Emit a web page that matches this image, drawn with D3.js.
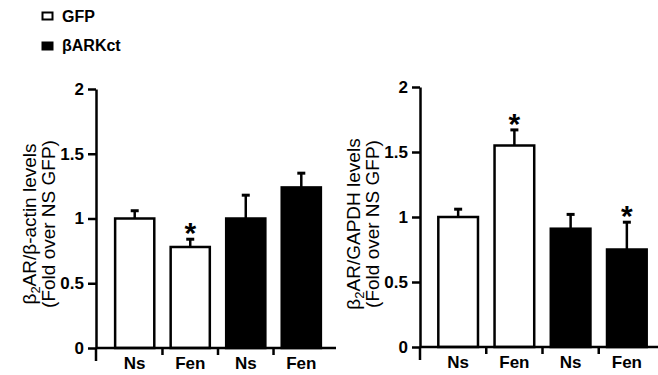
<!DOCTYPE html>
<html>
<head>
<meta charset="utf-8">
<script src="https://cdn.jsdelivr.net/npm/d3@7"></script>
<style>
body { margin: 0; background: #fff; }
svg { display: block; font-family: "Liberation Sans", Arial, sans-serif; }
</style>
</head>
<body>
<script>
// Daten
var categories = ["Ns", "Fen", "Ns", "Fen"];
var groups = ["GFP", "GFP", "βARKct", "βARKct"];
var actinValues = [1.0, 0.78, 1.0, 1.24];
var actinErrors = [0.06, 0.06, 0.18, 0.11];
var actinStars = [false, true, false, false];
var gapdhValues = [1.0, 1.55, 0.91, 0.75];
var gapdhErrors = [0.06, 0.12, 0.11, 0.21];
var gapdhStars = [false, true, false, true];
var yTicks = [0, 0.5, 1, 1.5, 2];
var legendItems = ["GFP", "βARKct"];

var width = 658, height = 375;
var font = "Liberation Sans, Arial, sans-serif";

var svg = d3.select("body").append("svg")
  .attr("width", width)
  .attr("height", height);

// Legende
legendItems.forEach(function (name, i) {
  var g = svg.append("g").attr("transform", "translate(0," + (i * 29) + ")");
  g.append("rect")
    .attr("x", 42.5).attr("y", 12.5 + (i ? 1 : 0))
    .attr("width", 10).attr("height", 7)
    .attr("fill", i ? "#000" : "#fff")
    .attr("stroke", "#000").attr("stroke-width", 2);
  g.append("text")
    .attr("x", 62).attr("y", 22)
    .attr("font-size", 16).attr("font-weight", "bold")
    .text(name);
});

function drawChart(opt) {
  var y = d3.scaleLinear().domain([0, 2]).range([opt.y0, opt.y2]);
  var x = d3.scaleBand().domain(d3.range(4)).range([opt.xStart, opt.xEnd]).padding(0.25);

  var g = svg.append("g");

  // Balken
  g.selectAll(".bar")
    .data(opt.values)
    .enter().append("rect")
    .attr("x", function (d, i) { return x(i) + 1.25; })
    .attr("y", function (d) { return y(d); })
    .attr("width", x.bandwidth() - 2.5)
    .attr("height", function (d) { return y(0) - y(d); })
    .attr("fill", function (d, i) { return groups[i] === "GFP" ? "#fff" : "#000"; })
    .attr("stroke", "#000").attr("stroke-width", 2.5);

  // Fehlerbalken + Sterne
  opt.values.forEach(function (v, i) {
    var cx = x(i) + x.bandwidth() / 2;
    var top = y(v + opt.errors[i]);
    g.append("line")
      .attr("x1", cx).attr("x2", cx)
      .attr("y1", y(v)).attr("y2", top)
      .attr("stroke", "#000").attr("stroke-width", 2.5);
    g.append("line")
      .attr("x1", cx - 4).attr("x2", cx + 4)
      .attr("y1", top).attr("y2", top)
      .attr("stroke", "#000").attr("stroke-width", 3);
    if (opt.stars[i]) {
      g.append("text")
        .attr("x", cx).attr("y", top + 4)
        .attr("text-anchor", "middle")
        .attr("font-size", 30).attr("font-weight", "bold")
        .text("*");
    }
  });

  // Y Achse
  var yAxis = g.append("g")
    .attr("transform", "translate(" + opt.axisX + ",0)")
    .call(d3.axisLeft(y).tickValues(yTicks).tickFormat(d3.format("")).tickSize(8).tickPadding(4).tickSizeOuter(0));
  yAxis.selectAll("text").attr("font-size", 17).attr("font-weight", "bold")
    .attr("font-family", font).attr("fill", "#000");
  yAxis.selectAll("line,path").attr("stroke", "#000").attr("stroke-width", 2.5);
  g.append("line")
    .attr("x1", opt.axisX).attr("x2", opt.axisX)
    .attr("y1", y(0)).attr("y2", y(0) + 13)
    .attr("stroke", "#000").attr("stroke-width", 2.5);

  // X Achse
  var xAxis = g.append("g")
    .attr("transform", "translate(0," + y(0) + ")")
    .call(d3.axisBottom(x).tickFormat(function (d) { return categories[d]; }).tickSize(0).tickPadding(9));
  xAxis.select(".domain").remove();
  xAxis.selectAll("text").attr("font-size", 17).attr("font-weight", "bold")
    .attr("font-family", font).attr("fill", "#000");
  g.append("line")
    .attr("x1", opt.axisX).attr("x2", opt.xEnd)
    .attr("y1", y(0)).attr("y2", y(0))
    .attr("stroke", "#000").attr("stroke-width", 2.5);
  g.selectAll(".xtick")
    .data([1, 2, 3])
    .enter().append("line")
    .attr("x1", function (d) { return x(d) - x.step() * x.paddingInner() / 2; })
    .attr("x2", function (d) { return x(d) - x.step() * x.paddingInner() / 2; })
    .attr("y1", y(0)).attr("y2", y(0) + 7)
    .attr("stroke", "#000").attr("stroke-width", 2.5);

  // Achsentitel
  var t = g.append("text")
    .attr("transform", "translate(" + (opt.axisX - 60) + ",224) rotate(-90)")
    .attr("text-anchor", "middle")
    .attr("font-size", 19);
  var l1 = t.append("tspan").attr("x", 0).attr("dy", 0);
  l1.append("tspan").text("β");
  l1.append("tspan").attr("font-size", 13).attr("dy", 4).text("2");
  l1.append("tspan").attr("dy", -4).text(opt.title);
  t.append("tspan").attr("x", 0).attr("dy", 19).text("(Fold over NS GFP)");
}

drawChart({
  values: actinValues, errors: actinErrors, stars: actinStars,
  y0: 348, y2: 89, axisX: 96, xStart: 100, xEnd: 336,
  title: "AR/β-actin levels"
});

drawChart({
  values: gapdhValues, errors: gapdhErrors, stars: gapdhStars,
  y0: 347, y2: 87, axisX: 420, xStart: 423, xEnd: 662,
  title: "AR/GAPDH levels"
});
</script>
</body>
</html>
